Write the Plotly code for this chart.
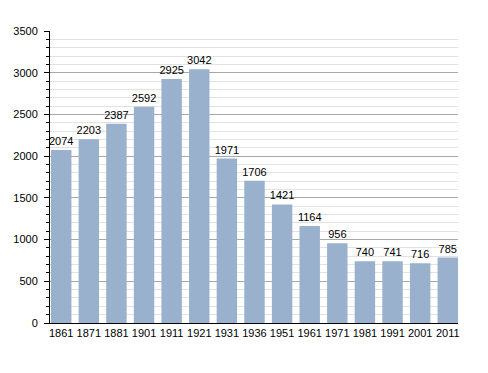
import plotly.graph_objects as go

years = ["1861", "1871", "1881", "1901", "1911", "1921", "1931", "1936",
         "1951", "1961", "1971", "1981", "1991", "2001", "2011"]
population = [2074, 2203, 2387, 2592, 2925, 3042, 1971, 1706,
              1421, 1164, 956, 740, 741, 716, 785]
y_ticks = [0, 500, 1000, 1500, 2000, 2500, 3000, 3500]

fig = go.Figure(go.Bar(
    x=years, y=population,
    marker=dict(color="#99B1CD", line=dict(width=0)),
    text=[str(v) for v in population],
    textposition="outside",
    constraintext="none",
    textfont=dict(family="Liberation Sans, Arial, sans-serif", size=11, color="black"),
    cliponaxis=False,
))

# page body adds an 8px offset; margins compensate so the plot area lands
# at x 50..458, y 31..323 in the window
fig.update_layout(
    width=488, height=373,
    margin=dict(l=42, r=38, t=23, b=58, autoexpand=False),
    paper_bgcolor="white", plot_bgcolor="white",
    bargap=0.26,
    showlegend=False,
    font=dict(family="Liberation Sans, Arial, sans-serif", size=11, color="black"),
)
fig.update_xaxes(
    type="category",
    range=[-0.406, 14.371],
    showline=True, linecolor="black", linewidth=1,
    ticks="", showgrid=False,
    tickfont=dict(size=11, color="black"),
    automargin=False,
)
fig.update_yaxes(
    range=[0, 3500],
    tickvals=y_ticks,
    showline=True, linecolor="black", linewidth=1,
    ticks="outside", ticklen=5, tickcolor="black",
    ticklabelstandoff=4,
    showgrid=True, gridcolor="#A8A8A8", gridwidth=1,
    zeroline=False,
    automargin=False,
    tickfont=dict(size=11, color="black"),
    minor=dict(dtick=100, tick0=0, showgrid=True, gridcolor="#E2E2E2", gridwidth=1,
               ticks="outside", ticklen=3, tickcolor="black"),
)

fig.write_html("out.html")
